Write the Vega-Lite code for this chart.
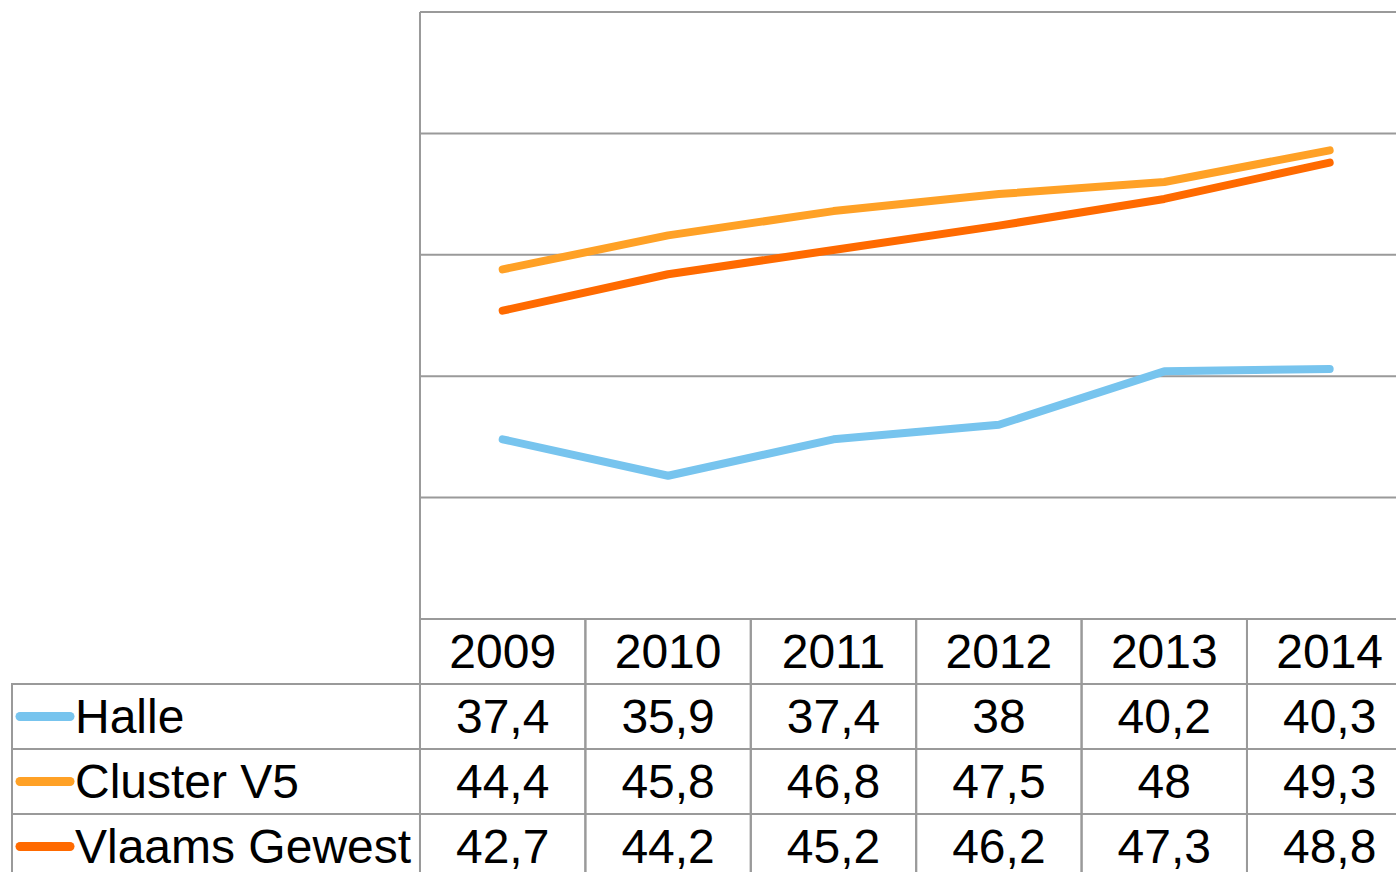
{
  "$schema": "https://vega.github.io/schema/vega-lite/v6.json",
  "width": 1384,
  "height": 860,
  "autosize": {"type": "none"},
  "padding": {"left": 12, "top": 12, "right": 0, "bottom": 0},
  "background": "white",
  "config": {
    "view": {"stroke": null},
    "locale": {"number": {"decimal": ",", "thousands": ".", "grouping": [3], "currency": ["€", ""]}},
    "text": {"font": "Liberation Sans", "fontSize": 48, "color": "black", "dy": 2}
  },
  "datasets": {
    "reeksen": [
      {"serie": "Halle", "jaar": 2009, "waarde": 37.4},
      {"serie": "Halle", "jaar": 2010, "waarde": 35.9},
      {"serie": "Halle", "jaar": 2011, "waarde": 37.4},
      {"serie": "Halle", "jaar": 2012, "waarde": 38},
      {"serie": "Halle", "jaar": 2013, "waarde": 40.2},
      {"serie": "Halle", "jaar": 2014, "waarde": 40.3},
      {"serie": "Cluster V5", "jaar": 2009, "waarde": 44.4},
      {"serie": "Cluster V5", "jaar": 2010, "waarde": 45.8},
      {"serie": "Cluster V5", "jaar": 2011, "waarde": 46.8},
      {"serie": "Cluster V5", "jaar": 2012, "waarde": 47.5},
      {"serie": "Cluster V5", "jaar": 2013, "waarde": 48},
      {"serie": "Cluster V5", "jaar": 2014, "waarde": 49.3},
      {"serie": "Vlaams Gewest", "jaar": 2009, "waarde": 42.7},
      {"serie": "Vlaams Gewest", "jaar": 2010, "waarde": 44.2},
      {"serie": "Vlaams Gewest", "jaar": 2011, "waarde": 45.2},
      {"serie": "Vlaams Gewest", "jaar": 2012, "waarde": 46.2},
      {"serie": "Vlaams Gewest", "jaar": 2013, "waarde": 47.3},
      {"serie": "Vlaams Gewest", "jaar": 2014, "waarde": 48.8}
    ],
    "raster": [
      {"waarde": 30}, {"waarde": 35}, {"waarde": 40}, {"waarde": 45}, {"waarde": 50}, {"waarde": 55}
    ]
  },
  "layer": [
    {
      "layer": [
        {
          "data": {"name": "raster"},
          "mark": {"type": "rule", "color": "#9a9a9a", "strokeWidth": 2},
          "encoding": {
            "x": {"datum": 2008.5, "type": "quantitative", "scale": {"domain": [2006.0333, 2014.401], "nice": false, "zero": false}, "axis": null},
            "x2": {"datum": 2014.5},
            "y": {"field": "waarde", "type": "quantitative", "scale": {"domain": [19.58, 55], "nice": false, "zero": false}, "axis": null}
          }
        },
        {
          "data": {"values": [{}]},
          "mark": {"type": "rule", "color": "#9a9a9a", "strokeWidth": 2},
          "encoding": {
            "x": {"datum": 2008.5, "type": "quantitative"},
            "y": {"datum": 55, "type": "quantitative"},
            "y2": {"datum": 15}
          }
        },
        {
          "data": {"name": "reeksen"},
          "mark": {"type": "line", "strokeWidth": 8, "strokeCap": "round", "strokeJoin": "round"},
          "encoding": {
            "x": {"field": "jaar", "type": "quantitative"},
            "y": {"field": "waarde", "type": "quantitative"},
            "color": {"field": "serie", "type": "nominal", "scale": {"domain": ["Halle", "Cluster V5", "Vlaams Gewest"], "range": ["#77c4ee", "#ffa126", "#ff6a00"]}, "legend": null}
          }
        }
      ]
    },
    {
      "layer": [
        {
          "data": {"name": "reeksen"},
          "mark": {"type": "rect", "filled": false, "stroke": "#9a9a9a", "strokeWidth": 2, "width": 165.4},
          "encoding": {
            "x": {"field": "jaar", "type": "quantitative"},
            "y": {"field": "serie", "type": "nominal", "scale": {"type": "band", "domain": ["Jaar", "Halle", "Cluster V5", "Vlaams Gewest"], "range": [607, 867], "paddingInner": 0, "paddingOuter": 0}, "axis": null}
          }
        },
        {
          "data": {"name": "reeksen"},
          "transform": [{"filter": "datum.serie === 'Halle'"}],
          "mark": {"type": "rect", "filled": false, "stroke": "#9a9a9a", "strokeWidth": 2, "width": 165.4},
          "encoding": {
            "x": {"field": "jaar", "type": "quantitative"},
            "y": {"datum": "Jaar", "type": "nominal"}
          }
        },
        {
          "data": {"name": "reeksen"},
          "transform": [{"filter": "datum.jaar === 2009"}],
          "mark": {"type": "rect", "filled": false, "stroke": "#9a9a9a", "strokeWidth": 2},
          "encoding": {
            "x": {"datum": 2006.0333, "type": "quantitative"},
            "x2": {"datum": 2008.5},
            "y": {"field": "serie", "type": "nominal"}
          }
        },
        {
          "data": {"name": "reeksen"},
          "transform": [{"filter": "datum.jaar === 2009"}],
          "mark": {"type": "rule", "strokeWidth": 9, "strokeCap": "round"},
          "encoding": {
            "x": {"datum": 2006.0817, "type": "quantitative"},
            "x2": {"datum": 2006.384},
            "y": {"field": "serie", "type": "nominal"},
            "color": {"field": "serie", "type": "nominal", "scale": {"domain": ["Halle", "Cluster V5", "Vlaams Gewest"], "range": ["#77c4ee", "#ffa126", "#ff6a00"]}, "legend": null}
          }
        },
        {
          "data": {"name": "reeksen"},
          "transform": [{"filter": "datum.jaar === 2009"}],
          "mark": {"type": "text", "align": "left", "baseline": "middle"},
          "encoding": {
            "x": {"datum": 2006.414, "type": "quantitative"},
            "y": {"field": "serie", "type": "nominal"},
            "text": {"field": "serie", "type": "nominal"}
          }
        },
        {
          "data": {"name": "reeksen"},
          "transform": [{"filter": "datum.serie === 'Halle'"}],
          "mark": {"type": "text", "align": "center", "baseline": "middle"},
          "encoding": {
            "x": {"field": "jaar", "type": "quantitative"},
            "y": {"datum": "Jaar", "type": "nominal"},
            "text": {"field": "jaar", "type": "nominal"}
          }
        },
        {
          "data": {"name": "reeksen"},
          "mark": {"type": "text", "align": "center", "baseline": "middle"},
          "encoding": {
            "x": {"field": "jaar", "type": "quantitative"},
            "y": {"field": "serie", "type": "nominal"},
            "text": {"field": "waarde", "type": "quantitative", "format": ".1~f"}
          }
        }
      ]
    }
  ],
  "resolve": {"scale": {"y": "independent"}}
}
